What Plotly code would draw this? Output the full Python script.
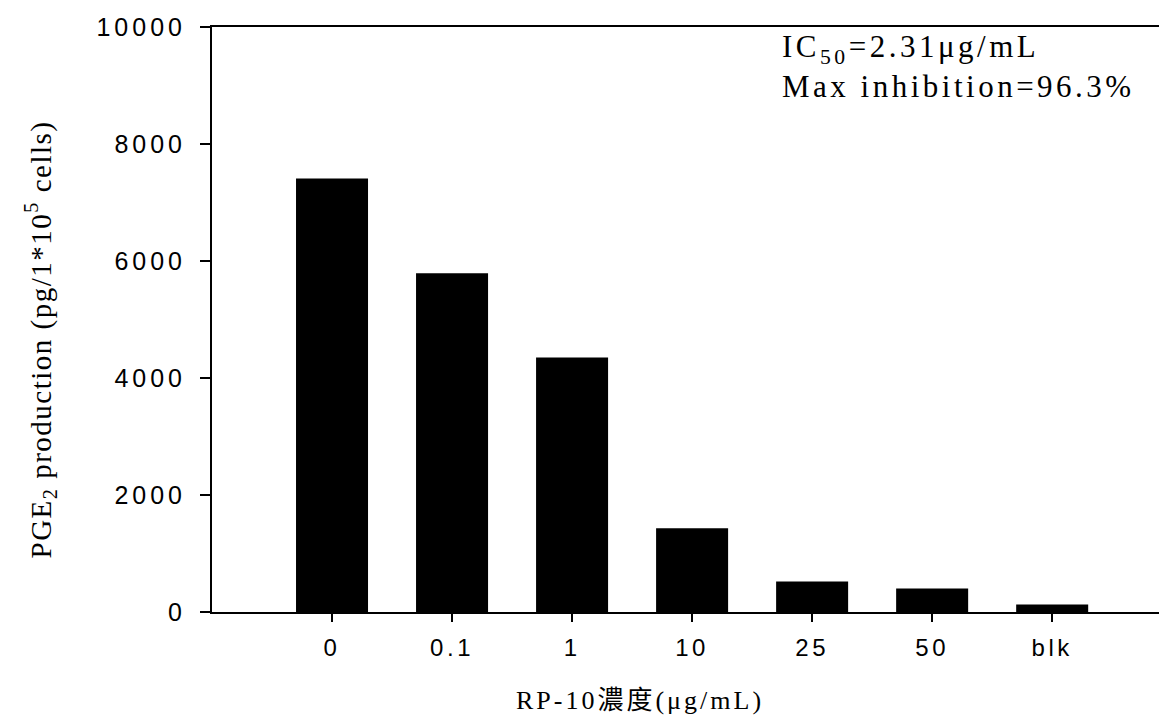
import plotly.graph_objects as go

categories = ["0", "0.1", "1", "10", "25", "50", "blk"]
pge2 = [7410, 5790, 4350, 1430, 520, 400, 130]
y_ticks = [0, 2000, 4000, 6000, 8000, 10000]
y_tick_text = ["0", "2000", "4000", "6000", "8000", "10000"]

W, H = 1159, 724
L, R, T, B = 212, 0, 27, 112

fig = go.Figure(go.Bar(x=categories, y=pge2, width=0.6,
                       marker=dict(color="black", line=dict(width=0))))

sans = "Liberation Sans, Arial, sans-serif"
serif = "Liberation Serif, Times New Roman, Noto Sans CJK TC, serif"

fig.update_layout(
    width=W, height=H,
    margin=dict(l=L, r=R, t=T, b=B, pad=0),
    plot_bgcolor="white", paper_bgcolor="white",
    showlegend=False,
    bargap=0.4,
    xaxis=dict(type="category", range=[-1, 6.89], showline=True, linecolor="black",
               linewidth=2, mirror=True, ticks="outside", ticklen=8, tickwidth=2,
               tickcolor="black", showgrid=False, zeroline=False, ticklabelstandoff=5,
               tickfont=dict(family=sans, size=24, color="black")),
    yaxis=dict(range=[0, 10000], tickvals=y_ticks, ticktext=y_tick_text, showline=True,
               linecolor="black", linewidth=2, ticks="outside", ticklen=10, tickwidth=2,
               tickcolor="black", showgrid=False, zeroline=False, ticklabelstandoff=9,
               tickfont=dict(family=sans, size=25, color="black")),
)

fig.add_annotation(text="PGE<sub>2</sub> production (pg/1*10<sup>5</sup> cells)",
                   xref="paper", yref="paper", x=-172 / (W - L - R), y=0.5 - 20 / (H - T - B),
                   xanchor="center", yanchor="middle", textangle=-90, showarrow=False,
                   font=dict(family=serif, size=29, color="black"))
fig.add_annotation(text="RP-10濃度(μg/mL)",
                   xref="paper", yref="paper", x=(640 - L) / (W - L - R),
                   y=-(700 - (H - B)) / (H - T - B),
                   xanchor="center", yanchor="middle", showarrow=False,
                   font=dict(family=serif, size=26, color="black"))
fig.add_annotation(text="IC<sub>50</sub>=2.31μg/mL<br>Max inhibition=96.3%",
                   xref="paper", yref="paper", x=(780 - L) / (W - L - R),
                   y=1 - (27 - T) / (H - T - B), xanchor="left", yanchor="top",
                   align="left", showarrow=False,
                   font=dict(family=serif, size=31, color="black"))

post = """
var gd = document.getElementById('{plot_id}');
function applyLS() {
  gd.querySelectorAll('.xtick text').forEach(function(t) { t.style.letterSpacing = '3.5px'; });
  gd.querySelectorAll('.ytick text').forEach(function(t) { t.style.letterSpacing = '4px'; });
  var sp = {'0': '1.5px', '1': '3px', '2': '3.5px'};
  gd.querySelectorAll('g.annotation').forEach(function(g) {
    var i = g.getAttribute('data-index');
    var t = g.querySelector('.annotation-text');
    if (t && sp[i]) { t.style.letterSpacing = sp[i]; }
  });
}
applyLS();
setTimeout(applyLS, 0);
if (gd.on) { gd.on('plotly_afterplot', applyLS); }
"""

fig.write_html("out.html", post_script=post)
